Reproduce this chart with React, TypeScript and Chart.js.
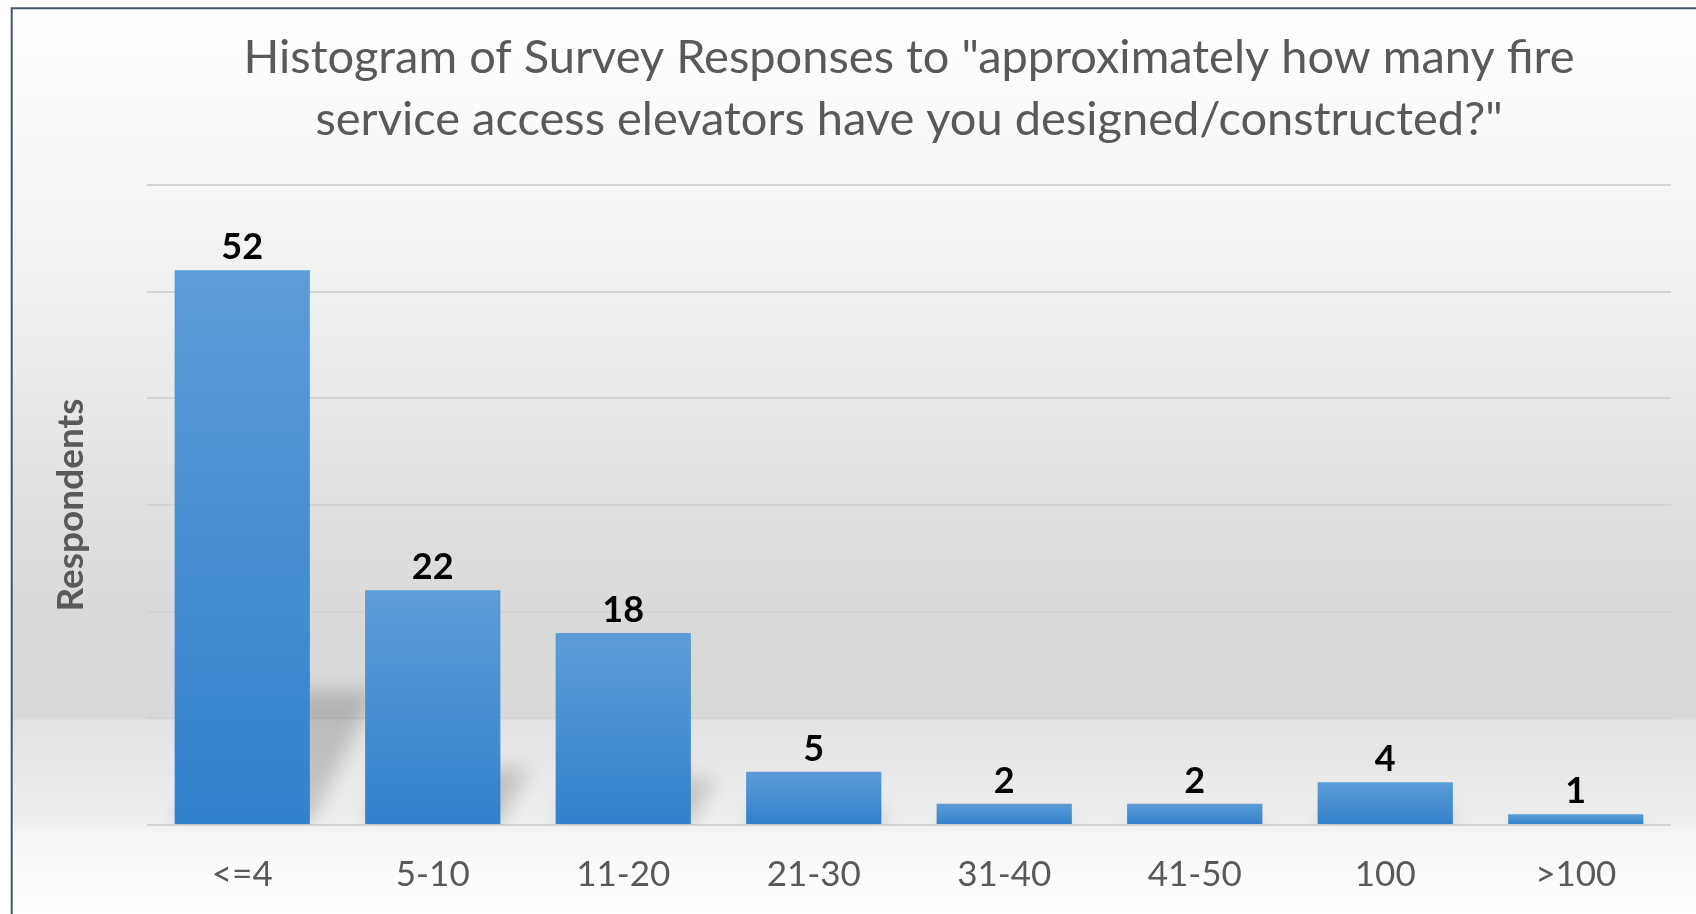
import React, { useEffect, useRef } from 'react';
import { Chart, registerables } from 'chart.js';

Chart.register(...registerables);

const categories = ['<=4', '5-10', '11-20', '21-30', '31-40', '41-50', '100', '>100'];
const respondents = [52, 22, 18, 5, 2, 2, 4, 1];
const yTicks = [0, 10, 20, 30, 40, 50, 60];
const titleLines = [
  'Histogram of Survey Responses to "approximately how many fire',
  'service access elevators have you designed/constructed?"',
];
const yAxisTitle = 'Respondents';

const W = 1696;
const H = 914;
const FONT = 'Lato, "Noto Sans", sans-serif';

const backgroundPlugin = {
  id: 'bgPlugin',
  beforeDraw(chart: any) {
    const { ctx, width, height } = chart;
    ctx.save();
    ctx.fillStyle = '#ffffff';
    ctx.fillRect(0, 0, width, height);
    const g = ctx.createLinearGradient(0, 9, 0, height);
    g.addColorStop(0, '#ffffff');
    g.addColorStop(0.12, '#fafafa');
    g.addColorStop(0.35, '#eeeeee');
    g.addColorStop(0.55, '#e0e0e0');
    g.addColorStop(0.68, '#d9d9d9');
    g.addColorStop(0.783, '#d9d9d9');
    g.addColorStop(0.787, '#e3e3e3');
    g.addColorStop(0.9, '#eeeeee');
    g.addColorStop(0.912, '#f7f7f7');
    g.addColorStop(1, '#ffffff');
    ctx.fillStyle = g;
    ctx.fillRect(12, 9, width - 12, height - 9);
    ctx.restore();
  },
  afterDraw(chart: any) {
    const { ctx, width, height } = chart;
    ctx.save();
    ctx.strokeStyle = '#44546a';
    ctx.lineWidth = 2;
    ctx.beginPath();
    ctx.moveTo(11.7, height);
    ctx.lineTo(11.7, 8.2);
    ctx.lineTo(width, 8.2);
    ctx.stroke();
    ctx.restore();
  },
};

const shadowPlugin = {
  id: 'shadowPlugin',
  beforeDatasetsDraw(chart: any) {
    const { ctx, chartArea } = chart;
    const meta = chart.getDatasetMeta(0);
    ctx.save();
    ctx.beginPath();
    ctx.rect(chartArea.left, chartArea.top, chartArea.right - chartArea.left, chartArea.bottom - chartArea.top);
    ctx.clip();
    ctx.filter = 'blur(9px)';
    ctx.fillStyle = 'rgba(0,0,0,0.17)';
    meta.data.forEach((bar: any) => {
      const { x, y, base, width } = bar.getProps(['x', 'y', 'base', 'width'], true);
      const h = base - y;
      const sh = h * 0.24;
      const dx = sh * 0.5;
      const l = x - width / 2;
      const r = x + width / 2;
      ctx.beginPath();
      ctx.moveTo(l, base);
      ctx.lineTo(r, base);
      ctx.lineTo(r + dx, base - sh);
      ctx.lineTo(l + dx, base - sh);
      ctx.closePath();
      ctx.fill();
    });
    ctx.restore();
  },
};

const valueLabelPlugin = {
  id: 'valueLabels',
  afterDatasetsDraw(chart: any) {
    const { ctx } = chart;
    const meta = chart.getDatasetMeta(0);
    ctx.save();
    ctx.font = `bold 36px ${FONT}`;
    ctx.fillStyle = '#000000';
    ctx.textAlign = 'center';
    ctx.textBaseline = 'alphabetic';
    meta.data.forEach((bar: any, i: number) => {
      const { x, y } = bar.getProps(['x', 'y'], true);
      ctx.fillText(String(respondents[i]), x, y - 11);
    });
    ctx.restore();
  },
};

export default function App() {
  const canvasRef = useRef<HTMLCanvasElement | null>(null);

  useEffect(() => {
    if (!canvasRef.current) return;
    const chart = new Chart(canvasRef.current, {
      type: 'bar',
      data: {
        labels: categories,
        datasets: [
          {
            label: yAxisTitle,
            data: respondents,
            backgroundColor: (c: any) => {
              const ch = c.chart;
              const ys = ch.scales && ch.scales.y;
              if (!ys || c.parsed == null) return '#4a8fd3';
              const top = ys.getPixelForValue(c.parsed.y);
              const base = ys.getPixelForValue(0);
              if (!isFinite(top) || !isFinite(base) || base - top < 1) return '#4a8fd3';
              const g = ch.ctx.createLinearGradient(0, top, 0, base);
              g.addColorStop(0, '#5c9cd7');
              g.addColorStop(1, '#3281cb');
              return g;
            },
            borderWidth: 0,
            categoryPercentage: 1,
            barPercentage: 0.71,
          },
        ],
      },
      options: {
        responsive: false,
        animation: false,
        devicePixelRatio: 1,
        layout: { padding: { left: 30, right: 25, top: 0, bottom: -11 } },
        font: { family: FONT },
        plugins: {
          legend: { display: false },
          tooltip: { enabled: false },
          title: {
            display: true,
            text: titleLines,
            color: '#595959',
            fullSize: false,
            font: { family: FONT, size: 47, weight: 'normal', lineHeight: 62 / 47 },
            padding: { top: 27, bottom: 34 },
          },
        },
        scales: {
          x: {
            grid: { display: false, drawTicks: false },
            border: { display: false },
            ticks: {
              color: '#595959',
              font: { family: FONT, size: 35, lineHeight: 1.2 },
              padding: 29,
            },
          },
          y: {
            min: yTicks[0],
            max: yTicks[yTicks.length - 1],
            ticks: { display: false, stepSize: yTicks[1] - yTicks[0] },
            border: { display: false },
            grid: { color: '#d3d3d3', lineWidth: 2, drawTicks: false },
            title: {
              display: true,
              text: yAxisTitle,
              color: '#595959',
              font: { family: FONT, size: 37, weight: 'bold', lineHeight: 1.2 },
              padding: { top: 18.8, bottom: 53.8 },
            },
          },
        },
      },
      plugins: [backgroundPlugin, shadowPlugin, valueLabelPlugin],
    } as any);
    return () => chart.destroy();
  }, []);

  return (
    <div style={{ position: 'absolute', left: 0, top: 0, width: W, height: H }}>
      <canvas ref={canvasRef} width={W} height={H} style={{ display: 'block', width: W, height: H }} />
    </div>
  );
}
